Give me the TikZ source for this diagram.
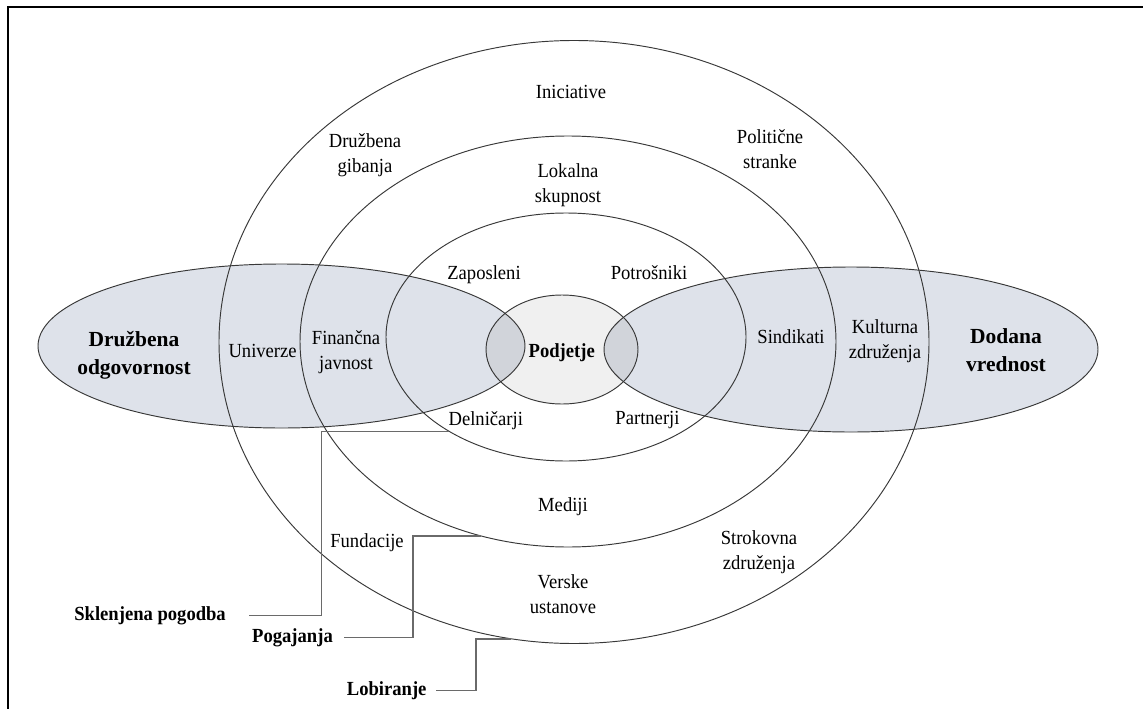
\documentclass[tikz,border=0pt]{standalone}
\usepackage{fontspec}
\setmainfont[FakeStretch=0.93]{Liberation Serif}
\newfontfamily\wideserif{Liberation Serif}
\usetikzlibrary{shapes.geometric}
\definecolor{podfill}{HTML}{F0F0F0}
\definecolor{sidefill}{HTML}{DEE2EA}
\definecolor{overfill}{HTML}{D1D4DA}
\definecolor{ringcol}{HTML}{383838}
\definecolor{conncol}{HTML}{6A6A6A}
\tikzset{
  ring/.style={ellipse, draw=ringcol, line width=0.95pt, inner sep=0pt, outer sep=0pt},
  lab/.style={inner sep=0pt, align=center, font=\fontsize{20}{25}\selectfont},
  biglab/.style={inner sep=0pt, align=center, font=\wideserif\bfseries\fontsize{21.5}{28}\selectfont},
  boldlab/.style={inner sep=0pt, font=\bfseries\fontsize{20}{25}\selectfont},
  conn/.style={draw=conncol, line width=1.6pt},
  frame/.style={draw=black, line width=2pt}
}
\begin{document}
\begin{tikzpicture}[x=1pt,y=-1pt]
\useasboundingbox (0,0) rectangle (1143,709);
% frame
\draw[frame] (8,709) -- (8,7) -- (1143,7);
% fills
\fill[podfill] (562,349.5) ellipse [x radius=76pt, y radius=54.5pt];
\fill[sidefill] (281.5,346) ellipse [x radius=243.5pt, y radius=82pt];
\fill[sidefill] (851,349.5) ellipse [x radius=247pt, y radius=82.5pt];
\begin{scope}
  \clip (562,349.5) ellipse [x radius=76pt, y radius=54.5pt];
  \fill[overfill] (281.5,346) ellipse [x radius=243.5pt, y radius=82pt];
  \fill[overfill] (851,349.5) ellipse [x radius=247pt, y radius=82.5pt];
\end{scope}
% ellipses
\node[ring, minimum width=710pt, minimum height=603pt] (outer) at (574,342) {};
\node[ring, minimum width=536pt, minimum height=411pt] (mid) at (568,341.5) {};
\node[ring, minimum width=360pt, minimum height=248pt] (inner) at (566,337) {};
\node[ring, minimum width=152pt, minimum height=109pt] (pod) at (562,349.5) {};
\node[ring, minimum width=487pt, minimum height=164pt] (left) at (281.5,346) {};
\node[ring, minimum width=494pt, minimum height=165pt] (right) at (851,349.5) {};
% labels
\node[lab] (ini) at (571,92) {Iniciative};
\node[lab] (gib) at (365,155.4) {Družbena\\gibanja};
\node[lab] (lok) at (568,184.7) {Lokalna\\skupnost};
\node[lab] (pol) at (770,149.3) {Politične\\stranke};
\node[lab] (zap) at (484,274.5) {Zaposleni};
\node[lab] (pot) at (649,272.5) {Potrošniki};
\node[boldlab] (podt) at (561.7,352.3) {Podjetje};
\node[lab] (del) at (485.8,420.5) {Delničarji};
\node[lab] (par) at (647.5,420.5) {Partnerji};
\node[lab] (uni) at (262.6,351) {Univerze};
\node[lab] (fin) at (346,352) {Finančna\\javnost};
\node[lab] (sin) at (791,336.8) {Sindikati};
\node[lab] (kul) at (885,341.5) {Kulturna\\združenja};
\node[biglab] (dro) at (134,355.6) {Družbena\\odgovornost};
\node[biglab] (dvr) at (1006,350.1) {Dodana\\vrednost};
\node[lab] (med) at (563,506.5) {Mediji};
\node[lab] (fun) at (367,542.2) {Fundacije};
\node[lab] (ver) at (563,594.2) {Verske\\ustanove};
\node[lab] (str) at (759,552.5) {Strokovna\\združenja};
\node[boldlab, anchor=east] (skl) at (226,615.5) {Sklenjena pogodba};
\node[boldlab, anchor=east] (pog) at (333,637.3) {Pogajanja};
\node[boldlab, anchor=east] (lob) at (426.7,690.5) {Lobiranje};
% connectors
\coordinate (s0) at ([xshift=23pt]skl.east);
\coordinate (sx) at (321.5,0);
\draw[conn] (s0) -- (s0 -| sx) |- (inner.219.4);
\coordinate (p0) at ([xshift=11pt]pog.east);
\coordinate (px) at (413,0);
\draw[conn] (p0) -- (p0 -| px) |- (mid.246.75);
\coordinate (l0) at ([xshift=9.3pt]lob.east);
\coordinate (lx) at (476,0);
\draw[conn] (l0) -- (l0 -| lx) |- (outer.258.39);
\end{tikzpicture}
\end{document}
